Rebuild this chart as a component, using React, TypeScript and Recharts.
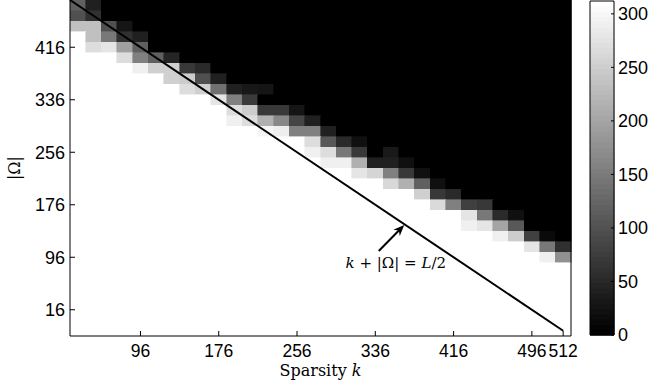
import React from 'react';
import { ComposedChart, XAxis, YAxis, ReferenceArea, ReferenceLine, ReferenceDot } from 'recharts';

const MAX_VALUE = 312;
const N_COLS = 32;
const N_ROWS = 32;

const kTickPositions = [5, 10, 15, 20, 25, 30, 32];
const kTickLabels = ['96', '176', '256', '336', '416', '496', '512'];
const omegaTickPositions = [3, 8, 13, 18, 23, 28];
const omegaTickLabels = ['16', '96', '176', '256', '336', '416'];
const colorbarTicks = [0, 50, 100, 150, 200, 250, 300];

// Heatmap rows, listed from the top row downward: cells left of bandStart are full (MAX_VALUE),
// the band values follow, and cells after the band are 0. Rows not listed are fully white.
const bandStart = [1, 1, 1, 2, 2, 4, 5, 7, 8, 10, 11, 11, 13, 16, 16, 17, 19, 21, 23, 24, 26, 26, 28, 30, 31];
const bandValues = [
  [117, 39],
  [98, 59],
  [235, 235, 98, 26],
  [235, 147, 59, 39],
  [270, 280, 196, 117],
  [270, 157, 117, 45],
  [294, 254, 254, 69, 51],
  [254, 250, 98, 39],
  [270, 254, 137, 39, 29, 26],
  [280, 157, 71],
  [270, 250, 69, 69, 26],
  [294, 270, 215, 166, 84, 39],
  [300, 291, 157, 157, 39],
  [270, 108, 51, 20],
  [294, 270, 147, 69, 0, 30],
  [294, 294, 215, 39, 39, 20],
  [280, 261, 157, 69, 20],
  [264, 215, 117, 20],
  [254, 69, 51],
  [267, 157, 78, 69],
  [280, 147, 51, 20],
  [294, 280, 202, 108],
  [294, 250, 78, 12],
  [280, 147, 59],
  [294, 176],
];

// boundary line k + |Ω| = L/2 (grid coordinates)
const boundaryLine = [
  { x: 0.5, y: 32.5 },
  { x: 32, y: 1 },
];
// annotation arrow (tail -> head) and text anchor (grid coordinates)
const arrowSegment = [
  { x: 20.22, y: 8.6 },
  { x: 21.85, y: 11.07 },
];
const annotationAnchor = { x: 21.31, y: 7.45 };

const gray = (v: number) => {
  const g = Math.round(Math.max(0, Math.min(1, v / MAX_VALUE)) * 255);
  return `rgb(${g},${g},${g})`;
};

type Cell = { c: number; j: number; v: number };
const cells: Cell[] = [];
for (let r = 0; r < N_ROWS; r++) {
  const j = N_ROWS - r;
  const start = r < bandStart.length ? bandStart[r] : N_COLS + 1;
  const band = r < bandValues.length ? bandValues[r] : [];
  for (let c = 1; c <= N_COLS; c++) {
    let v: number;
    if (c < start) v = MAX_VALUE;
    else if (c - start < band.length) v = band[c - start];
    else v = 0;
    cells.push({ c, j, v });
  }
}

const colorbarLevels = 64;
const colorbarStripes = Array.from({ length: colorbarLevels }, (_, i) => ({
  x: 0.5,
  lo: (i * MAX_VALUE) / colorbarLevels,
  hi: ((i + 1) * MAX_VALUE) / colorbarLevels,
  g: Math.round((i / (colorbarLevels - 1)) * 255),
}));

const SANS = 'Liberation Sans, Arial, sans-serif';
const SERIF = 'DejaVu Serif, serif';
const tickStyle = { fill: '#000', fontSize: 18, fontFamily: SANS };
const xTickStyle = { fill: '#000', fontSize: 17.5, fontFamily: SANS };

const ArrowShape = (props: any) => {
  const { x1, y1, x2, y2 } = props;
  const dx = x2 - x1;
  const dy = y2 - y1;
  const len = Math.hypot(dx, dy) || 1;
  const ux = dx / len;
  const uy = dy / len;
  const px = -uy;
  const py = ux;
  const headLen = 11;
  const headW = 4.5;
  const bx = x2 - ux * headLen;
  const by = y2 - uy * headLen;
  const nx = x2 - ux * headLen * 0.7;
  const ny = y2 - uy * headLen * 0.7;
  return (
    <g>
      <line x1={x1} y1={y1} x2={nx} y2={ny} stroke="#000" strokeWidth={2} />
      <polygon
        points={`${x2},${y2} ${bx + px * headW},${by + py * headW} ${nx},${ny} ${bx - px * headW},${by - py * headW}`}
        fill="#000"
      />
    </g>
  );
};

const AnnotationText = (props: any) => {
  const { cx, cy } = props;
  return (
    <text x={cx} y={cy} textAnchor="middle" dominantBaseline="central" fontFamily={SERIF} fontSize={15} fill="#000">
      <tspan fontStyle="italic">k</tspan>
      <tspan> + |Ω| = </tspan>
      <tspan fontStyle="italic">L</tspan>
      <tspan>/2</tspan>
    </text>
  );
};

const XLabel = (props: any) => {
  const { x, y, width } = props.viewBox;
  return (
    <text x={x + width / 2} y={y + 40} textAnchor="middle" fontFamily={SERIF} fontSize={16} fill="#000">
      <tspan>Sparsity </tspan>
      <tspan fontStyle="italic">k</tspan>
    </text>
  );
};

const YLabel = (props: any) => {
  const { x, y, height } = props.viewBox;
  const cx = x + 4;
  const cy = y + height / 2;
  return (
    <text
      x={cx}
      y={cy}
      transform={`rotate(-90, ${cx}, ${cy})`}
      textAnchor="middle"
      dominantBaseline="central"
      fontFamily={SERIF}
      fontSize={16}
      fill="#000"
    >
      |Ω|
    </text>
  );
};

const HeatmapChart = () => (
  <ComposedChart width={651} height={385} data={cells} margin={{ top: 0, right: 79, bottom: 19, left: 10 }}>
    {cells.map((d) => (
      <ReferenceArea
        key={`${d.c}-${d.j}`}
        x1={d.c - 0.5}
        x2={d.c + 0.5}
        y1={d.j - 0.5}
        y2={d.j + 0.5}
        fill={gray(d.v)}
        fillOpacity={1}
        stroke={gray(d.v)}
        strokeWidth={0.6}
        shapeRendering="crispEdges"
        ifOverflow="visible"
      />
    ))}
    <ReferenceLine segment={boundaryLine} stroke="#000" strokeWidth={2} ifOverflow="visible" />
    <ReferenceLine segment={arrowSegment} shape={ArrowShape} ifOverflow="visible" />
    <ReferenceDot x={annotationAnchor.x} y={annotationAnchor.y} r={0} shape={AnnotationText} ifOverflow="visible" />
    <XAxis
      type="number"
      dataKey="c"
      domain={[0.5, 32.5]}
      allowDataOverflow
      ticks={kTickPositions}
      interval={0}
      tickFormatter={(v: number) => kTickLabels[kTickPositions.indexOf(v)] ?? ''}
      height={30}
      tickSize={-5}
      tickMargin={14}
      axisLine={{ stroke: '#000', strokeWidth: 1 }}
      tickLine={{ stroke: '#000', strokeWidth: 1 }}
      tick={xTickStyle}
      label={XLabel}
    />
    <XAxis
      xAxisId="top"
      orientation="top"
      type="number"
      dataKey="c"
      domain={[0.5, 32.5]}
      allowDataOverflow
      ticks={kTickPositions}
      height={0}
      tick={false}
      tickLine={false}
      axisLine={{ stroke: '#000', strokeWidth: 1 }}
    />
    <YAxis
      type="number"
      dataKey="j"
      domain={[0.5, 32.5]}
      allowDataOverflow
      ticks={omegaTickPositions}
      interval={0}
      tickFormatter={(v: number) => omegaTickLabels[omegaTickPositions.indexOf(v)] ?? ''}
      width={60}
      tickSize={-5}
      tickMargin={10}
      axisLine={{ stroke: '#000', strokeWidth: 1 }}
      tickLine={{ stroke: '#000', strokeWidth: 1 }}
      tick={tickStyle}
      label={YLabel}
    />
    <YAxis
      yAxisId="right"
      orientation="right"
      type="number"
      dataKey="j"
      domain={[0.5, 32.5]}
      allowDataOverflow
      ticks={omegaTickPositions}
      interval={0}
      width={1}
      tickSize={-5}
      tick={false}
      axisLine={{ stroke: '#000', strokeWidth: 1 }}
      tickLine={{ stroke: '#000', strokeWidth: 1 }}
    />
  </ComposedChart>
);

const ColorbarChart = () => (
  <ComposedChart width={651} height={385} data={colorbarStripes} margin={{ top: 0, right: 36, bottom: 49, left: 589 }}>
    {colorbarStripes.map((s, i) => (
      <ReferenceArea
        key={i}
        x1={0}
        x2={1}
        y1={s.lo}
        y2={s.hi}
        fill={`rgb(${s.g},${s.g},${s.g})`}
        fillOpacity={1}
        stroke={`rgb(${s.g},${s.g},${s.g})`}
        strokeWidth={0.6}
        shapeRendering="crispEdges"
        ifOverflow="visible"
      />
    ))}
    <XAxis type="number" dataKey="x" domain={[0, 1]} allowDataOverflow height={1} tick={false} tickLine={false} axisLine={{ stroke: '#000' }} />
    <XAxis xAxisId="top" orientation="top" type="number" dataKey="x" domain={[0, 1]} allowDataOverflow height={1} tick={false} tickLine={false} axisLine={{ stroke: '#000' }} />
    <YAxis
      type="number"
      dataKey="lo"
      domain={[0, MAX_VALUE]}
      allowDataOverflow
      ticks={colorbarTicks}
      interval={0}
      width={1}
      tickSize={-3}
      tick={false}
      axisLine={{ stroke: '#000' }}
      tickLine={{ stroke: '#000' }}
    />
    <YAxis
      yAxisId="right"
      orientation="right"
      type="number"
      dataKey="lo"
      domain={[0, MAX_VALUE]}
      allowDataOverflow
      ticks={colorbarTicks}
      interval={0}
      width={1}
      tickSize={-3}
      tickMargin={7}
      axisLine={{ stroke: '#000' }}
      tickLine={{ stroke: '#000' }}
      tick={tickStyle}
    />
  </ComposedChart>
);

export default function App() {
  return (
    <div style={{ position: 'absolute', left: 0, top: 0, width: 651, height: 385, background: '#fff' }}>
      <div style={{ position: 'absolute', left: 0, top: 0 }}>
        <HeatmapChart />
      </div>
      <div style={{ position: 'absolute', left: 0, top: 0 }}>
        <ColorbarChart />
      </div>
    </div>
  );
}
